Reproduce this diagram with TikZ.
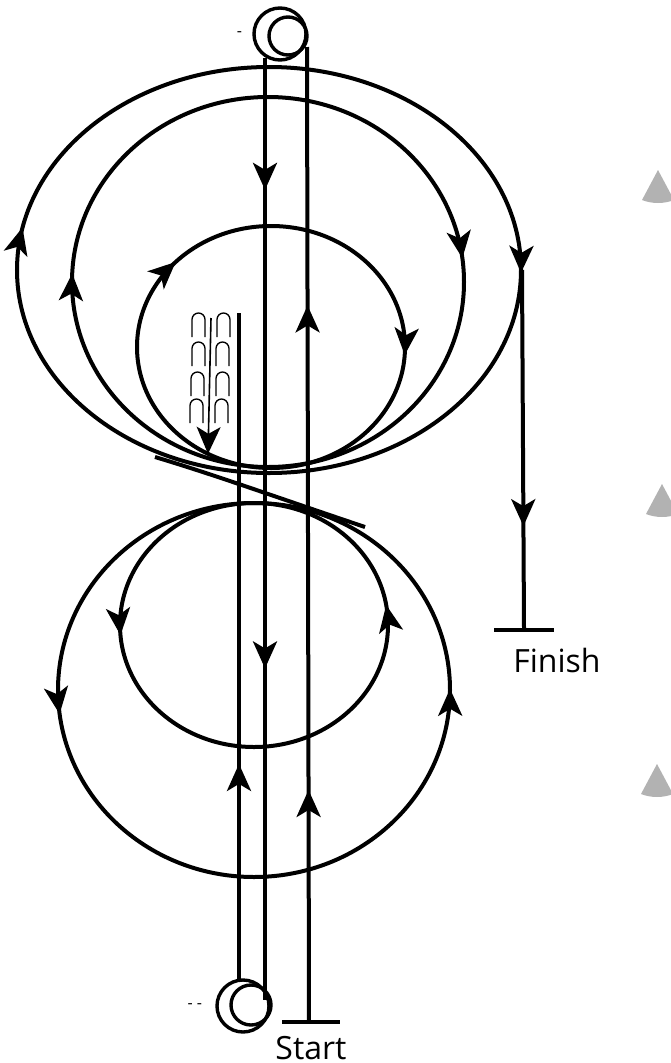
\documentclass[tikz,border=0pt]{standalone}
\usepackage{fontspec}
\setmainfont{Open Sans}
\usetikzlibrary{arrows.meta, positioning, decorations.markings}
\definecolor{grisCono}{HTML}{B2B2B2}
\tikzset{
  hilo/.style={line width=4pt, black},
  hiloFino/.style={line width=1.3pt, black},
  polea/.style={circle, draw=black, line width=3.4pt, inner sep=0pt, fill=none},
  barra/.style={fill=black, inner sep=0pt, minimum height=4pt},
  etiqueta/.style={font=\fontsize{32}{36}\selectfont, inner sep=0pt},
  marca/.style={font=\fontsize{16}{18}\selectfont, inner sep=0pt},
  punta/.style={postaction={decorate, decoration={markings,
    mark=at position #1 with {\arrow{Stealth[length=27pt, width=24pt, inset=7pt]}}}}},
  puntaInv/.style={postaction={decorate, decoration={markings,
    mark=at position #1 with {\arrowreversed{Stealth[length=27pt, width=24pt, inset=7pt]}}}}},
  cono/.style={fill=grisCono, draw=none},
}
\begin{document}
\begin{tikzpicture}[x=1pt, y=-1pt]
    \useasboundingbox (0,0) rectangle (670,1063);
    % poleas
    \node[polea, minimum size=52pt] (poleaArriba) at (280,34) {};
    \node[polea, minimum size=38pt] (poleaArribaIn) at (288,36) {};
    \node[polea, minimum size=52pt] (poleaAbajo) at (243,1006) {};
    \node[polea, minimum size=40pt] (poleaAbajoIn) at (251,1005) {};
    \node[marca, left=10pt of poleaArriba] (menosArriba) {-};
    \node[marca, left=13pt of poleaAbajo] (menosAbajo) {- -};
    % barras de inicio y fin
    \node[barra, minimum width=60pt] (barraFin) at (524,630) {};
    \node[barra, minimum width=58pt] (barraInicio) at (311,1022) {};
    \node[etiqueta, below=16pt of barraFin, xshift=33pt] (finish) {Finish};
    \node[etiqueta, below=12pt of barraInicio] (start) {Start};
    % puntos libres
    \coordinate (hiloA1) at (265,58);
    \coordinate (hiloA2) at (265,1000);
    \coordinate (hiloB1) at (309,1022);
    \coordinate (hiloB2) at (307,47);
    \coordinate (hiloC1) at (239,981);
    \coordinate (hiloC2) at (239,313);
    \coordinate (salida) at (522,270);
    \coordinate (cruceA) at (155,457);
    \coordinate (cruceB) at (365,527);
    % vueltas superiores
    \draw[hilo, punta=.002, punta=.53] (269,270) ellipse [x radius=252, y radius=203];
    \draw[hilo, punta=.98, punta=.507] (268,282) ellipse [x radius=196, y radius=185];
    \draw[hilo, punta=.01, punta=.62] (271,347) ellipse [x radius=134, y radius=121];
    % vueltas inferiores
    \draw[hilo, puntaInv=.999, puntaInv=.48] (254,690) ellipse [x radius=196, y radius=187];
    \draw[hilo, puntaInv=.975, puntaInv=.4875] (254,625) ellipse [x radius=134, y radius=122];
    % cruce entre vueltas
    \draw[hilo] (cruceA) .. controls (215,475) and (270,495) .. (cruceB);
    % hilos rectos
    \draw[hilo, punta=.14, punta=.648] (hiloA1) -- (hiloA2);
    \draw[hilo, punta=.238, punta=.735] (hiloB1) -- (hiloB2);
    \draw[hilo, punta=.325] (hiloC1) -- (hiloC2);
    \draw[hilo, punta=.716] (salida) -- (barraFin.north);
    % agujas
    \foreach \xa/\ya in {192/313, 192/342, 191/372, 190/399,
                         217/313, 216/342, 216/372, 215/399}{
      \draw[hiloFino] (\xa,\ya+24) -- (\xa,\ya+6.5) arc[start angle=180, delta angle=180, radius=6.5] -- (\xa+13,\ya+24);
    }
    \coordinate (agujaA) at (211,318);
    \coordinate (agujaB) at (208,454);
    \draw[hilo, line width=1.6pt, punta=.999] (agujaA) -- (agujaB);
    % conos
    \foreach \cx/\cy in {658/170, 662/484, 657/764}{
      \fill[cono] (\cx,\cy) -- (\cx+16,\cy+30) .. controls (\cx+6,\cy+34) and (\cx-6,\cy+34) .. (\cx-16,\cy+30) -- cycle;
    }
  \end{tikzpicture}
\end{document}
